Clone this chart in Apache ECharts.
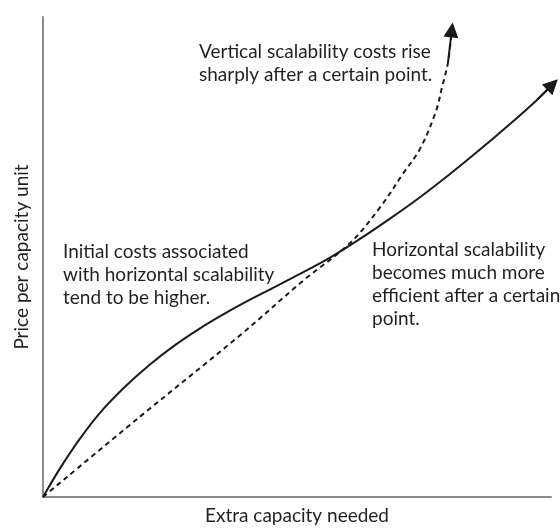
<!DOCTYPE html>
<html>
<head>
<meta charset="utf-8">
<script src="https://cdn.jsdelivr.net/npm/echarts@6/dist/echarts.min.js"></script>
<style>
html,body{margin:0;padding:0;background:#fff;}
#chart{width:560px;height:530px;}
</style>
</head>
<body>
<div id="chart"></div>
<script>
// Horizontal scalability (solid) – price per capacity unit vs extra capacity
const horizontalX = [0, 3.35, 7.28, 11.22, 16.14, 21.06, 25.98, 30.91, 35.83, 40.75, 45.67, 50.59, 56.50, 62.40, 68.31, 74.21, 80.12, 86.02, 91.93, 97.24, 100.30];
const horizontalY = [0, 5.97, 12.17, 17.54, 22.95, 27.60, 31.63, 35.14, 38.24, 41.10, 43.78, 46.47, 49.88, 53.78, 58.00, 62.46, 67.29, 72.38, 77.71, 82.73, 85.93];
// Vertical scalability (dashed)
const verticalX = [0, 19.09, 38.78, 51.18, 60.43, 66.34, 70.87, 74.21, 77.36, 78.54, 79.72, 80.47];
const verticalY = [0, 16.74, 33.68, 45.04, 52.89, 60.33, 67.36, 72.52, 80.37, 85.33, 90.50, 97.31];

const xAxisName = 'Extra capacity needed';
const yAxisName = 'Price per capacity unit';
const noteVertical = 'Vertical scalability costs rise\nsharply after a certain point.';
const noteInitial = 'Initial costs associated\nwith horizontal scalability\ntend to be higher.';
const noteHorizontal = 'Horizontal scalability\nbecomes much more\nefficient after a certain\npoint.';

const FONT = 'Lato';
const TXT = '#231f20';

function pairs(xs, ys){ return xs.map((x,i)=>[x, ys[i]]); }
function lastSeg(xs, ys){
  const n = xs.length;
  return [[xs[n-2], ys[n-2]], [xs[n-1], ys[n-1]]];
}

const chart = echarts.init(document.getElementById('chart'), null, {renderer:'canvas'});
chart.setOption({
  animation:false,
  backgroundColor:'#ffffff',
  grid:{left:43, right:9, top:17, bottom:29},
  xAxis:{
    type:'value', min:0, max:100,
    name:xAxisName, nameLocation:'middle', nameGap:9,
    nameTextStyle:{fontFamily:FONT, fontSize:19, color:TXT, verticalAlign:'top'},
    axisLine:{show:true, lineStyle:{color:'#8c8c8c', width:2}},
    axisTick:{show:false}, axisLabel:{show:false}, splitLine:{show:false}
  },
  yAxis:{
    type:'value', min:0, max:100,
    name:yAxisName, nameLocation:'middle', nameGap:12,
    nameTextStyle:{fontFamily:FONT, fontSize:19, color:TXT},
    axisLine:{show:true, lineStyle:{color:'#8c8c8c', width:2}},
    axisTick:{show:false}, axisLabel:{show:false}, splitLine:{show:false}
  },
  series:[
    {
      type:'line', data:pairs(horizontalX, horizontalY), smooth:0.3,
      showSymbol:false, symbol:'none', clip:false,
      lineStyle:{color:'#1a1a1a', width:2}
    },
    {
      type:'line', data:pairs(verticalX, verticalY), smooth:0.35,
      showSymbol:false, symbol:'none', clip:false,
      lineStyle:{color:'#1a1a1a', width:2, type:[5,4]}
    },
    {
      type:'lines', coordinateSystem:'cartesian2d', clip:false,
      symbol:['none','triangle'], symbolSize:[15,15],
      lineStyle:{color:'#1a1a1a', width:2, opacity:1, curveness:0},
      data:[{coords:lastSeg(horizontalX, horizontalY)}, {coords:lastSeg(verticalX, verticalY)}]
    }
  ],
  graphic:[
    {type:'text', left:199, top:40, style:{text:noteVertical, font:'19px '+FONT, fill:TXT, lineHeight:23}},
    {type:'text', left:63, top:240, style:{text:noteInitial, font:'19px '+FONT, fill:TXT, lineHeight:23}},
    {type:'text', left:372, top:238, style:{text:noteHorizontal, font:'19px '+FONT, fill:TXT, lineHeight:23}}
  ]
});
</script>
</body>
</html>
